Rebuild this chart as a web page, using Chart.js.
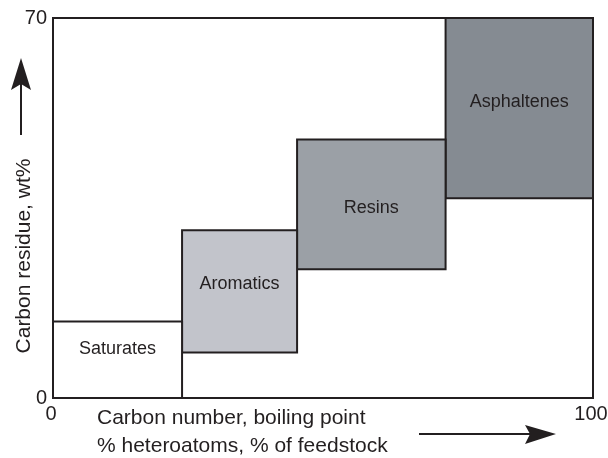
<!DOCTYPE html>
<html>
<head>
<meta charset="utf-8">
<script src="https://cdn.jsdelivr.net/npm/chart.js@4.4.1/dist/chart.umd.min.js"></script>
<style>
  body { margin: 0; background: #fff; }
  #wrap { width: 608px; height: 458px; }
</style>
</head>
<body>
<div id="wrap"><canvas id="fracChart"></canvas></div>
<script>
// Fractions (SARA) as boxes: x range and carbon residue range
const fractions = ['Saturates', 'Aromatics', 'Resins', 'Asphaltenes'];
const xStart = [0, 23.9, 45.2, 72.7];
const xEnd = [23.9, 45.2, 72.7, 100];
const yLow = [0, 8.4, 23.7, 36.8];
const yHigh = [14.1, 30.9, 47.6, 70];
const labelY = [9, 21, 35, 54.5];
const fillColors = ['#ffffff', '#c2c4cb', '#9ba0a6', '#858b92'];

const xTicks = [0, 100];
const yTicks = [0, 70];

const ink = '#231f20';
const font = 'Liberation Sans, Arial, Helvetica, sans-serif';

// each fraction becomes a closed rectangle path
const datasets = fractions.map((name, i) => ({
    label: name,
    data: [
        {x: xStart[i], y: yLow[i]},
        {x: xEnd[i], y: yLow[i]},
        {x: xEnd[i], y: yHigh[i]},
        {x: xStart[i], y: yHigh[i]},
        {x: xStart[i], y: yLow[i]}
    ],
    showLine: true,
    fill: 'shape',
    backgroundColor: fillColors[i],
    borderColor: ink,
    borderWidth: 2,
    pointRadius: 0,
    tension: 0
}));

// frame, box labels, axis titles and arrows
const decorations = {
    id: 'decorations',
    afterDatasetsDraw(chart) {
        const {ctx, chartArea, scales} = chart;
        ctx.save();
        ctx.strokeStyle = ink;
        ctx.lineWidth = 2;
        ctx.strokeRect(chartArea.left, chartArea.top,
            chartArea.right - chartArea.left, chartArea.bottom - chartArea.top);

        ctx.fillStyle = ink;
        ctx.font = '18px ' + font;
        ctx.textAlign = 'center';
        ctx.textBaseline = 'middle';
        fractions.forEach((name, i) => {
            const cx = scales.x.getPixelForValue((xStart[i] + xEnd[i]) / 2);
            const cy = scales.y.getPixelForValue(labelY[i]);
            ctx.fillText(name, cx, cy);
        });

        // axis titles
        ctx.font = '21px ' + font;
        ctx.textAlign = 'left';
        ctx.fillText('Carbon number, boiling point', 97, 418);
        ctx.fillText('% heteroatoms, % of feedstock', 97, 446);
        ctx.save();
        ctx.translate(24, 256);
        ctx.rotate(-Math.PI / 2);
        ctx.textAlign = 'center';
        ctx.fillText('Carbon residue, wt%', 0, 0);
        ctx.restore();

        // arrows
        ctx.beginPath();
        ctx.moveTo(21, 135);
        ctx.lineTo(21, 80);
        ctx.moveTo(419, 434);
        ctx.lineTo(530, 434);
        ctx.stroke();
        ctx.beginPath();
        ctx.moveTo(21, 58);
        ctx.lineTo(31, 90);
        ctx.lineTo(21, 84);
        ctx.lineTo(11, 90);
        ctx.closePath();
        ctx.moveTo(556, 434);
        ctx.lineTo(525, 444);
        ctx.lineTo(530, 434);
        ctx.lineTo(525, 425);
        ctx.closePath();
        ctx.fill();
        ctx.restore();
    }
};

new Chart(document.getElementById('fracChart'), {
    type: 'scatter',
    data: { datasets: datasets },
    options: {
        responsive: true,
        maintainAspectRatio: false,
        animation: false,
        layout: { padding: { top: 18, right: 15, left: 0, bottom: 0 } },
        plugins: {
            legend: { display: false },
            tooltip: { enabled: false }
        },
        scales: {
            x: {
                type: 'linear',
                min: 0,
                max: 100,
                grid: { display: false, drawTicks: false },
                border: { display: false },
                afterBuildTicks: (scale) => { scale.ticks = xTicks.map(v => ({value: v})); },
                afterFit: (scale) => {
                    scale.height = 60;
                    scale.paddingLeft = 0;
                    scale.paddingRight = 0;
                },
                ticks: { color: ink, padding: 4, labelOffset: -2, font: { size: 20, family: font } }
            },
            y: {
                type: 'linear',
                min: 0,
                max: 70,
                grid: { display: false, drawTicks: false },
                border: { display: false },
                afterBuildTicks: (scale) => { scale.ticks = yTicks.map(v => ({value: v})); },
                afterFit: (scale) => {
                    scale.width = 53;
                    scale.paddingTop = 0;
                    scale.paddingBottom = 0;
                },
                ticks: { color: ink, padding: 6, font: { size: 20, family: font } }
            }
        }
    },
    plugins: [decorations]
});
</script>
</body>
</html>
